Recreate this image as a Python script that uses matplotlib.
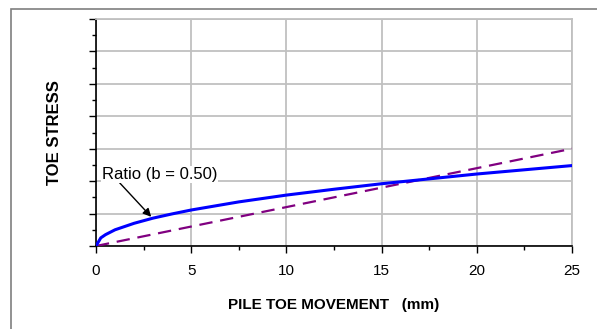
"""
Toe stress vs pile toe movement (Ratio function, b = 0.50).
"""

import matplotlib
matplotlib.use("Agg")
import matplotlib.pyplot as plt
from matplotlib.patches import Rectangle
from matplotlib.ticker import MultipleLocator

plt.rcParams["font.family"] = ["Liberation Sans", "DejaVu Sans"]

# Ratio curve (b = 0.50)
movement = [0, 0.25, 0.5, 1, 2, 3, 4, 5, 7.5, 10, 12.5, 15, 17.5, 20, 22.5, 25]
toe_stress = [0, 0.25, 0.35, 0.50, 0.70, 0.86, 0.99, 1.11, 1.36, 1.57,
              1.75, 1.92, 2.07, 2.22, 2.35, 2.48]

# linear reference line
line_x = [0, 25]
line_y = [0, 3.0]

BLUE = "#0000ff"
PURPLE = "#800080"
GRID = "#c0c0c0"

fig = plt.figure(figsize=(5.97, 3.29), dpi=100)
ax = fig.add_axes([96 / 597, 1 - 246 / 329, 476 / 597, 227 / 329])

# outer chart frame (grey, runs off the right and bottom)
fig.patches.append(Rectangle((11 / 597, -0.1), 1.2, (329 - 9) / 329 + 0.1,
                             transform=fig.transFigure, fill=False,
                             edgecolor="#7f7f7f", linewidth=1.2))

ax.plot(line_x, line_y, color=PURPLE, linewidth=1.6, dashes=(6, 3.5), zorder=3)
ax.plot(movement, toe_stress, color=BLUE, linewidth=2.2, zorder=4)

ax.set_xlim(0, 25)
ax.set_ylim(0, 7)
ax.xaxis.set_major_locator(MultipleLocator(5))
ax.xaxis.set_minor_locator(MultipleLocator(2.5))
ax.yaxis.set_major_locator(MultipleLocator(1))
ax.yaxis.set_minor_locator(MultipleLocator(0.5))
ax.set_yticklabels([])

ax.grid(True, which="major", color=GRID, linewidth=1.3)
ax.set_axisbelow(True)
ax.tick_params(which="both", direction="out", colors="black", width=1)
ax.tick_params(which="major", length=5)
ax.tick_params(which="minor", length=3)
ax.tick_params(axis="x", labelsize=11, pad=8)

for s in ["top", "right"]:
    ax.spines[s].set_color(GRID)
    ax.spines[s].set_linewidth(1.3)
for s in ["left", "bottom"]:
    ax.spines[s].set_color("black")
    ax.spines[s].set_linewidth(1.2)

ax.set_xlabel("PILE TOE MOVEMENT   (mm)", fontsize=11, fontweight="bold",
              labelpad=14)
ax.set_ylabel("TOE STRESS", fontsize=12, fontweight="bold", labelpad=16)

ax.annotate("Ratio (b = 0.50)", xy=(2.9, 0.90), xytext=(0.3, 2.2),
            fontsize=12, va="center", ha="left",
            arrowprops=dict(arrowstyle="-|>", color="black", lw=1,
                            shrinkA=0, shrinkB=0, mutation_scale=12,
                            relpos=(0.15, 0)),
            bbox=dict(facecolor="white", edgecolor="none", pad=0.5))

fig.savefig("out.png", dpi=100, facecolor="white")
